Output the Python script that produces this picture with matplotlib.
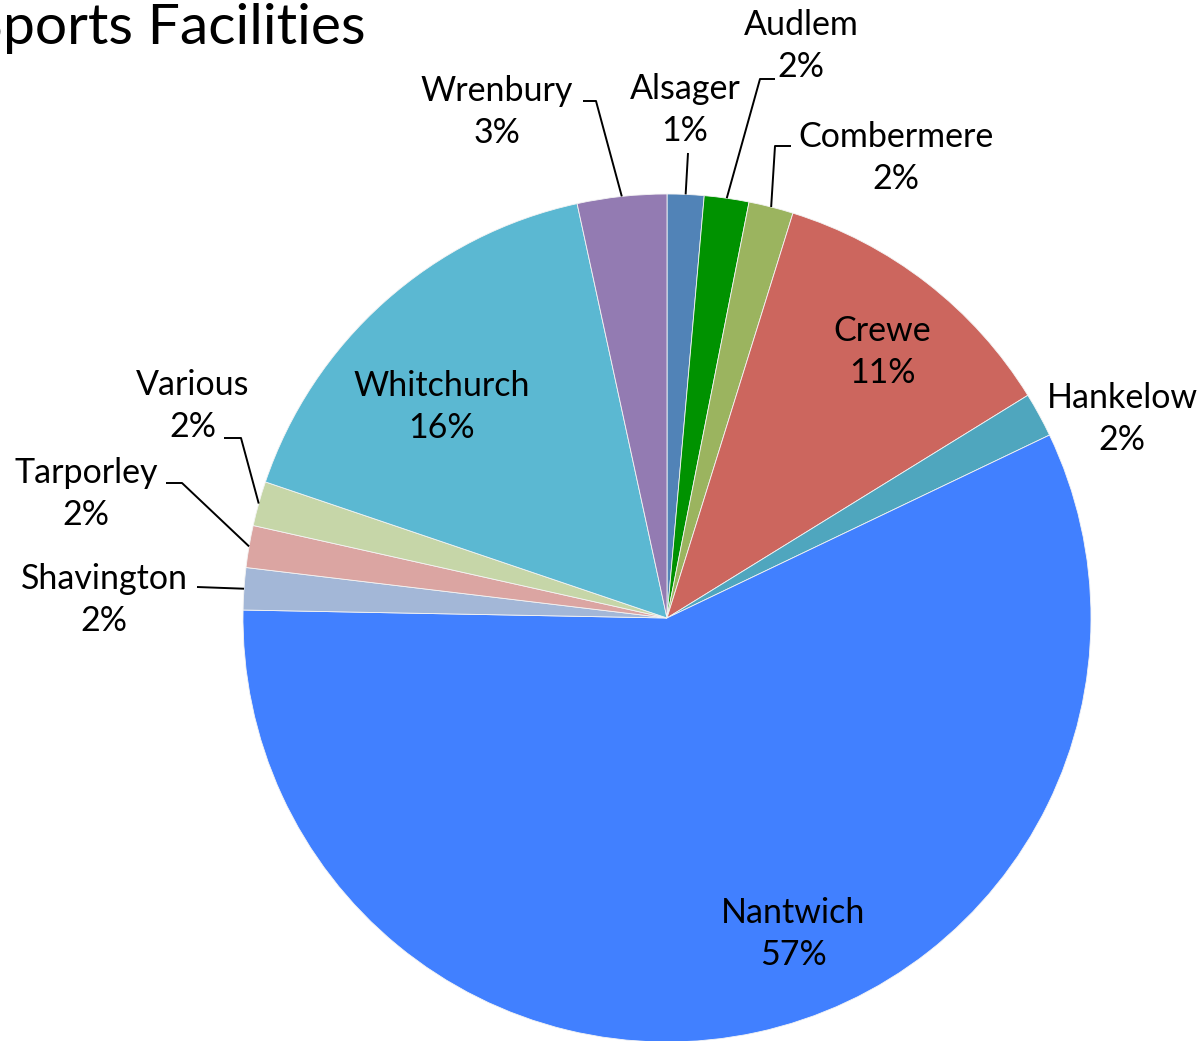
import numpy as np
import matplotlib.pyplot as plt

plt.rcParams['font.family'] = ['Lato', 'DejaVu Sans']

# data (percent of facilities)
places = ['Alsager', 'Audlem', 'Combermere', 'Crewe', 'Hankelow', 'Nantwich',
          'Shavington', 'Tarporley', 'Various', 'Whitchurch', 'Wrenbury']
shares = [1.4, 1.7, 1.7, 11.4, 1.7, 57.4, 1.6, 1.6, 1.7, 16.4, 3.4]
colors = ['#5183B7', '#009200', '#9BB45F', '#CC665E', '#4FA6BE', '#4180FF',
          '#A3B7D7', '#DBA5A2', '#C6D6A8', '#5BB8D2', '#937BB2']

W, H = 1202, 1041
cx, cy, R = 667, 618, 424   # pie centre / radius in pixels (y from top)

# label layout: text centre, elbow point, line end (None = straight/inside)
layout = {
    'Alsager':    ((685, 110), None, (688, 153)),
    'Audlem':     ((801, 46), (760, 79), (775, 79)),
    'Combermere': ((896, 158), (775, 146), (791, 146)),
    'Crewe':      ((882, 352), None, None),
    'Hankelow':   ((1122, 419), None, None),
    'Nantwich':   ((793, 934), None, None),
    'Shavington': ((104, 600), None, (197, 587)),
    'Tarporley':  ((86, 494), (182, 483), (166, 483)),
    'Various':    ((193, 406), (241, 438), (224, 438)),
    'Whitchurch': ((442, 407), None, None),
    'Wrenbury':   ((497, 112), (596, 101), (583, 101)),
}

fig = plt.figure(figsize=(W / 100, H / 100), dpi=100)
ax = fig.add_axes([0, 0, 1, 1])

wedges, _ = ax.pie(shares, colors=colors, startangle=90, counterclock=False,
                   center=(cx, H - cy), radius=R,
                   wedgeprops=dict(linewidth=0.6, edgecolor='#f4f4f4'))
ax.set_xlim(0, W)
ax.set_ylim(0, H)
ax.set_aspect('equal')
ax.axis('off')

total = sum(shares)
for w, name, val in zip(wedges, places, shares):
    (tx, ty), elbow, end = layout[name]
    ax.text(tx, H - ty, f'{name}\n{val / total * 100:.0f}%', ha='center',
            va='center', fontsize=24.5, linespacing=1.42, color='black')
    if end is None:
        continue
    mid = np.deg2rad((w.theta1 + w.theta2) / 2)
    ex, ey = cx + R * np.cos(mid), (H - cy) + R * np.sin(mid)
    xs, ys = [ex], [ey]
    if elbow is not None:
        xs.append(elbow[0]); ys.append(H - elbow[1])
    xs.append(end[0]); ys.append(H - end[1])
    ax.plot(xs, ys, color='black', lw=1.4, solid_capstyle='butt')

# title runs off the left edge in the original
ax.text(366, H - 28, 'Sports Facilities', ha='right', va='center',
        fontsize=41, color='black')

fig.savefig('out.png', dpi=100)
